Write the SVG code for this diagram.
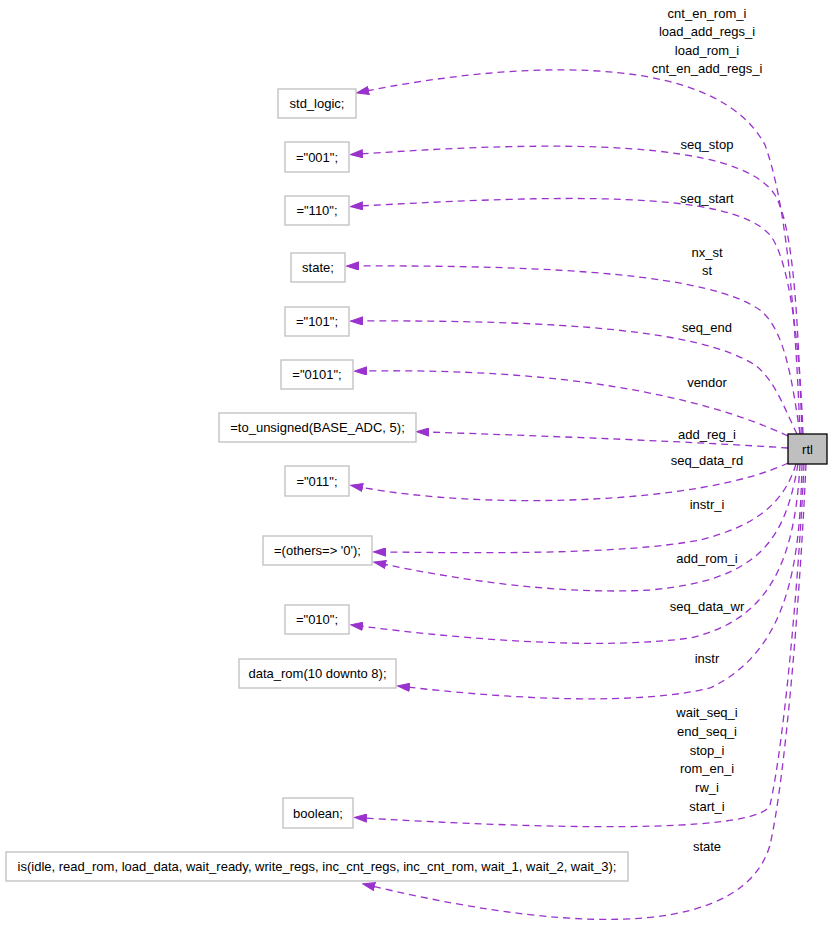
<svg xmlns="http://www.w3.org/2000/svg" width="832" height="939" viewBox="0 0 832 939">
<style>
text{font-family:"Liberation Sans",Arial,sans-serif;font-size:13px;fill:#000;text-anchor:middle}
.box{fill:#fff;stroke:#bfbfbf;stroke-width:1.3}
.edge{fill:none;stroke:#9a32cd;stroke-width:1.3;stroke-dasharray:7,5;marker-end:url(#ah)}
</style>
<defs>
<marker id="ah" viewBox="0 0 13 9" refX="3" refY="4.5" markerWidth="13" markerHeight="9" markerUnits="userSpaceOnUse" orient="auto">
<path d="M0.5,0.5 L12.5,4.5 L0.5,8.5 z" fill="#9a32cd" stroke="#9a32cd" stroke-width="1"/>
</marker>
</defs>
<rect width="832" height="939" fill="#fff"/>
<g id="connectors">
<path class="edge" d="M800,434 C795,300 785,200 765,145 C720,60 550,55 366,91"/>
<path class="edge" d="M802,434 C798,330 795,230 775,195 C740,140 560,140 360,154"/>
<path class="edge" d="M803,434 C800,350 790,260 770,235 C730,190 560,195 360,206"/>
<path class="edge" d="M800,434 C792,380 785,330 760,310 C710,275 560,265 356,266"/>
<path class="edge" d="M797,434 C785,410 775,380 755,365 C700,330 560,320 360,321"/>
<path class="edge" d="M788,436 C700,395 560,368 364,371"/>
<path class="edge" d="M788,448 C700,442 550,436 426,432"/>
<path class="edge" d="M788,463 C700,505 480,510 360,487"/>
<path class="edge" d="M796,464 C785,500 760,525 700,540 C620,555 480,553 383,552"/>
<path class="edge" d="M798,464 C785,540 760,580 650,590 C560,595 460,580 383,564"/>
<path class="edge" d="M800,464 C795,560 770,620 690,638 C600,650 470,640 360,626"/>
<path class="edge" d="M802,464 C800,560 790,650 710,688 C640,705 520,700 407,687"/>
<path class="edge" d="M804,464 C800,560 785,740 770,805 C760,830 600,832 364,818"/>
<path class="edge" d="M806,464 C800,600 785,780 770,845 C745,930 600,940 372,886"/>
<g id="edge-labels">
<text x="707" y="18">cnt_en_rom_i</text>
<text x="707" y="36">load_add_regs_i</text>
<text x="707" y="55">load_rom_i</text>
<text x="707" y="73">cnt_en_add_regs_i</text>
<text x="707" y="149">seq_stop</text>
<text x="707" y="203">seq_start</text>
<text x="707" y="257">nx_st</text>
<text x="707" y="275">st</text>
<text x="707" y="332">seq_end</text>
<text x="707" y="387">vendor</text>
<text x="707" y="439">add_reg_i</text>
<text x="707" y="465">seq_data_rd</text>
<text x="707" y="509">instr_i</text>
<text x="707" y="563">add_rom_i</text>
<text x="707" y="611">seq_data_wr</text>
<text x="707" y="663">instr</text>
<text x="707" y="717">wait_seq_i</text>
<text x="707" y="736">end_seq_i</text>
<text x="707" y="755">stop_i</text>
<text x="707" y="773">rom_en_i</text>
<text x="707" y="792">rw_i</text>
<text x="707" y="811">start_i</text>
<text x="707" y="851">state</text>
</g>
</g>
<g id="node-rtl"><rect x="788" y="434" width="39" height="30" fill="#bfbfbf" stroke="#000" stroke-width="1.3"/><text x="807.5" y="453.5">rtl</text></g>
<g id="node-std_logic"><rect class="box" x="278" y="89" width="78" height="29"/><text x="317" y="108">std_logic;</text></g>
<g id="node-001"><rect class="box" x="285" y="142" width="64" height="30"/><text x="317" y="161.5">="001";</text></g>
<g id="node-110"><rect class="box" x="285" y="196" width="64" height="29"/><text x="317" y="215">="110";</text></g>
<g id="node-state"><rect class="box" x="291" y="253" width="54" height="29"/><text x="318" y="272">state;</text></g>
<g id="node-101"><rect class="box" x="285" y="307" width="64" height="29"/><text x="317" y="326">="101";</text></g>
<g id="node-0101"><rect class="box" x="281" y="360" width="72" height="29"/><text x="317" y="379">="0101";</text></g>
<g id="node-to_unsigned"><rect class="box" x="219" y="413" width="197" height="29"/><text x="317.5" y="432">=to_unsigned(BASE_ADC, 5);</text></g>
<g id="node-011"><rect class="box" x="285" y="466" width="64" height="30"/><text x="317" y="485.5">="011";</text></g>
<g id="node-others"><rect class="box" x="263" y="536" width="109" height="29"/><text x="317.5" y="555">=(others=&gt; '0');</text></g>
<g id="node-010"><rect class="box" x="285" y="605" width="64" height="29"/><text x="317" y="624">="010";</text></g>
<g id="node-data_rom"><rect class="box" x="239" y="659" width="157" height="29"/><text x="317.5" y="678">data_rom(10 downto 8);</text></g>
<g id="node-boolean"><rect class="box" x="283" y="798" width="70" height="30"/><text x="318" y="817.5">boolean;</text></g>
<g id="node-enum"><rect class="box" x="6" y="852" width="622" height="29"/><text x="317" y="871">is(idle, read_rom, load_data, wait_ready, write_regs, inc_cnt_regs, inc_cnt_rom, wait_1, wait_2, wait_3);</text></g>
</svg>
